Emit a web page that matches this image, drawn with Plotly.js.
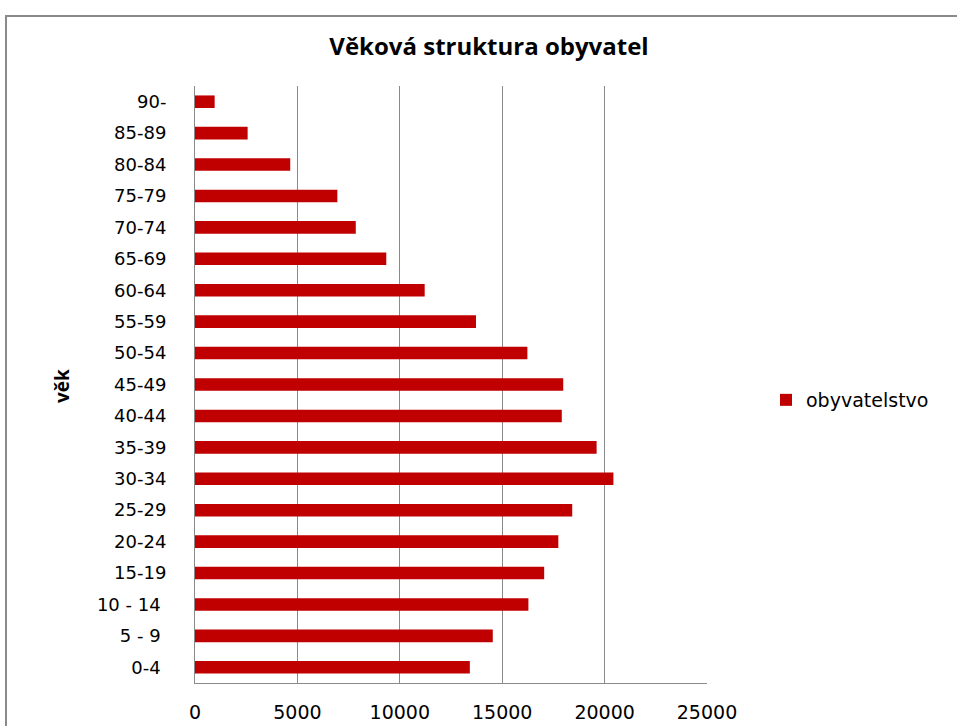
<!DOCTYPE html>
<html>
<head>
<meta charset="utf-8">
<script src="https://cdn.plot.ly/plotly-3.0.1.min.js"></script>
<style>
  html, body { margin: 0; padding: 0; background: #ffffff; overflow: hidden; }
  #chart { width: 957px; height: 726px; position: relative; }
  #frame { position: absolute; left: 5px; top: 15px; width: 1000px; height: 1000px;
           border: 2px solid #8a8a8a; pointer-events: none; box-sizing: border-box; }
</style>
</head>
<body>
<div id="chart"></div>
<div id="frame"></div>
<script>
// Age groups (bottom to top)
var ageGroups = ["0-4\u00a0", "5 - 9\u00a0", "10 - 14\u00a0", "15-19", "20-24", "25-29", "30-34",
                 "35-39", "40-44", "45-49", "50-54", "55-59", "60-64", "65-69",
                 "70-74", "75-79", "80-84", "85-89", "90-"];
// Population values
var population = [13420, 14540, 16280, 17050, 17740, 18420, 20430,
                  19610, 17910, 17980, 16230, 13720, 11215, 9340,
                  7850, 6950, 4650, 2570, 960];
var seriesName = "obyvatelstvo";
var xTicks = [0, 5000, 10000, 15000, 20000, 25000];
var chartTitle = "Věková struktura obyvatel";
var yTitle = "věk";

var trace = {
  type: "bar",
  orientation: "h",
  y: ageGroups,
  x: population,
  name: seriesName,
  marker: { color: "#c00000" },
  showlegend: true
};

var layout = {
  width: 957,
  height: 726,
  paper_bgcolor: "#ffffff",
  plot_bgcolor: "#ffffff",
  margin: { l: 195, r: 250, t: 86, b: 43 },
  bargap: 0.6,
  title: {
    text: "<b>" + chartTitle + "</b>",
    font: { family: "Open Sans", size: 24, color: "#000000" },
    x: 489 / 957, xref: "container", xanchor: "center",
    y: 1 - 47 / 726, yanchor: "middle"
  },
  xaxis: {
    range: [0, 25000],
    tickvals: xTicks,
    ticktext: xTicks.map(String),
    showgrid: true,
    gridcolor: "#8a8a8a",
    gridwidth: 1,
    zeroline: false,
    showline: true,
    linecolor: "#8a8a8a",
    linewidth: 1,
    ticks: "",
    ticklabelstandoff: 12,
    tickfont: { family: "DejaVu Sans", size: 19, color: "#000000" },
    fixedrange: true
  },
  yaxis: {
    type: "category",
    categoryorder: "array",
    categoryarray: ageGroups,
    showgrid: false,
    zeroline: false,
    showline: true,
    linecolor: "#8a8a8a",
    linewidth: 1,
    ticks: "",
    ticklabelstandoff: 24,
    tickfont: { family: "DejaVu Sans", size: 18, color: "#000000" },
    fixedrange: true
  },
  annotations: [{
    text: "<b>" + yTitle + "</b>",
    xref: "paper", yref: "paper",
    x: (62 - 195) / 512, y: (683 - 386) / 597,
    xanchor: "center", yanchor: "middle",
    textangle: -90,
    showarrow: false,
    font: { family: "Open Sans", size: 19, color: "#000000" }
  }],
  legend: {
    x: (766 - 195) / 512,
    y: (683 - 400) / 597,
    xanchor: "left",
    yanchor: "middle",
    font: { family: "DejaVu Sans", size: 19, color: "#000000" },
    bgcolor: "rgba(0,0,0,0)",
    itemwidth: 30
  }
};

Plotly.newPlot("chart", [trace], layout, { displayModeBar: false, staticPlot: true });
</script>
</body>
</html>
